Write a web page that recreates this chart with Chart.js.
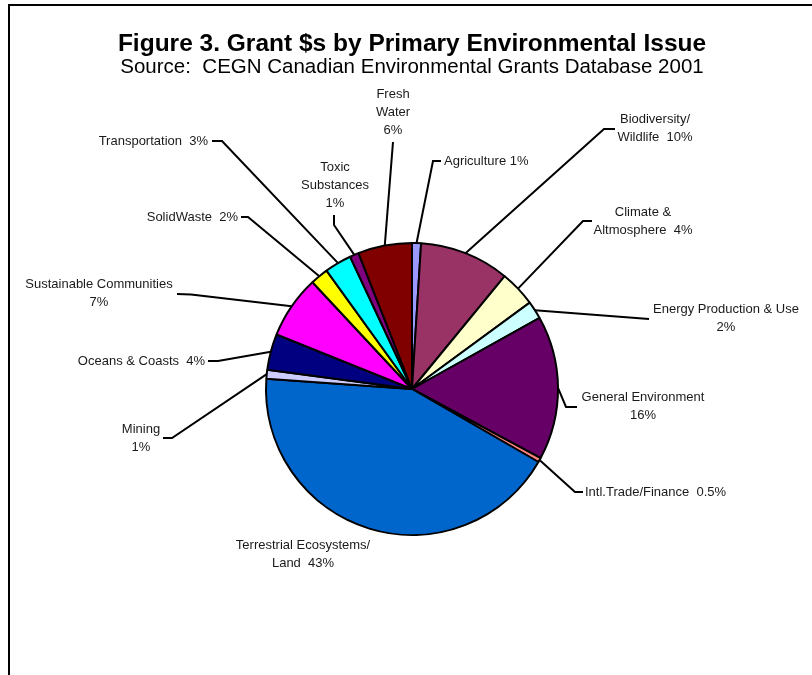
<!DOCTYPE html>
<html>
<head>
<meta charset="utf-8">
<script src="https://cdn.jsdelivr.net/npm/chart.js@4.4.0/dist/chart.umd.min.js"></script>
<style>
  body { margin: 0; background: #fff; }
  #wrap { width: 812px; height: 675px; }
</style>
</head>
<body>
<div id="wrap"><canvas id="grafica" width="812" height="675"></canvas></div>
<script>
// slices clockwise from 12 o'clock
const categories = [
    "Agriculture", "Biodiversity/Wildlife", "Climate & Altmosphere", "Energy Production & Use",
    "General Environment", "Intl.Trade/Finance", "Terrestrial Ecosystems/Land", "Mining",
    "Oceans & Coasts", "Sustainable Communities", "SolidWaste", "Transportation",
    "Toxic Substances", "Fresh Water"
];
const percents = [1, 10, 4, 2, 16, 0.5, 43, 1, 4, 7, 2, 3, 1, 6];
const colors = [
    "#9999FF", "#993366", "#FFFFCC", "#CCFFFF", "#660066", "#FF8080", "#0066CC",
    "#CCCCFF", "#000080", "#FF00FF", "#FFFF00", "#00FFFF", "#800080", "#800000"
];
const labelLines = [
    ["Agriculture 1%"],
    ["Biodiversity/", "Wildlife  10%"],
    ["Climate &", "Altmosphere  4%"],
    ["Energy Production & Use", "2%"],
    ["General Environment", "16%"],
    ["Intl.Trade/Finance  0.5%"],
    ["Terrestrial Ecosystems/", "Land  43%"],
    ["Mining", "1%"],
    ["Oceans & Coasts  4%"],
    ["Sustainable Communities", "7%"],
    ["SolidWaste  2%"],
    ["Transportation  3%"],
    ["Toxic", "Substances", "1%"],
    ["Fresh", "Water", "6%"]
];
const title = "Figure 3. Grant $s by Primary Environmental Issue";
const subtitle = "Source:  CEGN Canadian Environmental Grants Database 2001";

// where each label sits and how its leader line bends (layout only)
const labelPos = [
    { x: 444, y: 161, align: "left",   elbow: [433, 161], end: [441, 161] },
    { x: 655, y: 119, align: "center", elbow: [604, 129], end: [615, 129] },
    { x: 643, y: 212, align: "center", elbow: [583, 221], end: [592, 221] },
    { x: 726, y: 309, align: "center", elbow: [649, 319], end: [649, 319] },
    { x: 643, y: 397, align: "center", elbow: [566, 407], end: [577, 407] },
    { x: 585, y: 492, align: "left",   elbow: [575, 492], end: [583, 492] },
    { x: 303, y: 545, align: "center", elbow: null, end: null },
    { x: 141, y: 429, align: "center", elbow: [172, 438], end: [163, 438] },
    { x: 205, y: 361, align: "right",  elbow: [218, 361], end: [208, 361] },
    { x: 99,  y: 284, align: "center", elbow: [191, 294.5], end: [177, 294] },
    { x: 238, y: 217, align: "right",  elbow: [248, 217], end: [241, 217] },
    { x: 208, y: 141, align: "right",  elbow: [222, 141], end: [212, 141] },
    { x: 335, y: 167, align: "center", elbow: [334, 225], end: [334, 215] },
    { x: 393, y: 94,  align: "center", elbow: [393, 142], end: [393, 142] }
];

const FONT = "Arial, 'Liberation Sans', sans-serif";

const marco = {
    id: "marco",
    beforeDraw(chart) {
        const ctx = chart.ctx;
        ctx.save();
        ctx.fillStyle = "#fff";
        ctx.fillRect(0, 0, chart.width, chart.height);
        ctx.strokeStyle = "#000";
        ctx.lineWidth = 2;
        ctx.strokeRect(9, 5, 1000, 1000);

        ctx.fillStyle = "#000";
        ctx.textAlign = "center";
        ctx.textBaseline = "middle";
        ctx.font = "bold 24.5px " + FONT;
        ctx.fillText(title, 412, 44);
        ctx.font = "20.5px " + FONT;
        ctx.fillText(subtitle, 412, 67.5);
        ctx.restore();
    }
};

const etiquetas = {
    id: "etiquetas",
    afterDatasetsDraw(chart) {
        const ctx = chart.ctx;
        const arcs = chart.getDatasetMeta(0).data;
        ctx.save();
        ctx.strokeStyle = "#000";
        ctx.lineWidth = 2;
        arcs.forEach((arc, i) => {
            const p = labelPos[i];
            if (p.elbow) {
                const mid = (arc.startAngle + arc.endAngle) / 2;
                const sx = arc.x + Math.cos(mid) * arc.outerRadius;
                const sy = arc.y + Math.sin(mid) * arc.outerRadius;
                ctx.beginPath();
                ctx.moveTo(sx, sy);
                ctx.lineTo(p.elbow[0], p.elbow[1]);
                ctx.lineTo(p.end[0], p.end[1]);
                ctx.stroke();
            }
            ctx.fillStyle = "#1a1a1a";
            ctx.font = "13px " + FONT;
            ctx.textAlign = p.align;
            ctx.textBaseline = "middle";
            labelLines[i].forEach((line, k) => {
                ctx.fillText(line, p.x, p.y + k * 18.3);
            });
        });
        ctx.restore();
    }
};

new Chart(document.getElementById("grafica"), {
    type: "pie",
    data: {
        labels: categories,
        datasets: [{
            data: percents,
            backgroundColor: colors,
            borderColor: "#000",
            borderWidth: 2,
            radius: 146
        }]
    },
    options: {
        responsive: false,
        animation: false,
        layout: { padding: { left: 266, right: 254, top: 243, bottom: 140 } },
        plugins: {
            legend: { display: false },
            tooltip: { enabled: false },
            title: { display: false }
        }
    },
    plugins: [marco, etiquetas]
});
</script>
</body>
</html>
